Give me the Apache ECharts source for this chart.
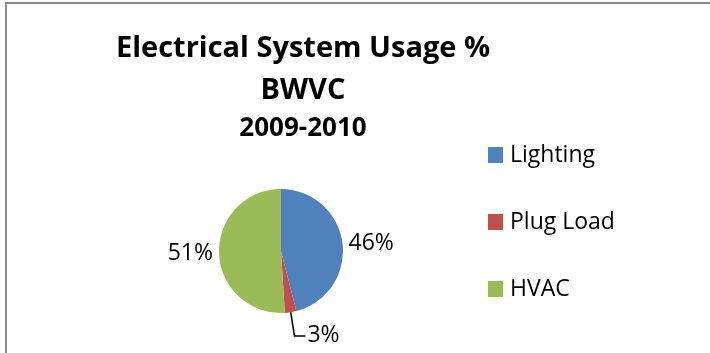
<!DOCTYPE html>
<html>
<head>
<meta charset="utf-8">
<script src="https://cdn.jsdelivr.net/npm/echarts@6/dist/echarts.min.js"></script>
<style>
  html, body { margin: 0; padding: 0; background: #fff; }
  #chart { width: 710px; height: 353px; }
</style>
</head>
<body>
<div id="chart"></div>
<script>
const categories = ["Lighting", "Plug Load", "HVAC"];
const shares = [46, 3, 51];
const colors = ["#4F81BD", "#C0504D", "#9BBB59"];

const font = "'Open Sans', sans-serif";

const pieData = categories.map((name, i) => {
  const item = { name, value: shares[i], itemStyle: { color: colors[i] } };
  if (name === "Plug Load") {
    // small slice: label hangs below on a leader line
    item.label = { padding: [0, 0, 17, 0], distanceToLabelLine: 2 };
    item.labelLine = { show: true, length: 24, length2: 11 };
  }
  return item;
});

const chart = echarts.init(document.getElementById("chart"));
chart.setOption({
  backgroundColor: "#fff",
  animation: false,
  graphic: [{
    type: "polyline",
    shape: { points: [[6, 353], [6, 3], [710, 3]] },
    style: { stroke: "#8c8c8c", lineWidth: 2, fill: null }
  }],
  title: {
    text: "Electrical System Usage %\nBWVC",
    subtext: "2009-2010",
    left: 298,
    top: 23,
    textAlign: "center",
    itemGap: 2,
    textStyle: { fontFamily: font, fontSize: 29, fontWeight: "bold", color: "#000", lineHeight: 42 },
    subtextStyle: { fontFamily: font, fontSize: 26, fontWeight: "bold", color: "#000", lineHeight: 30 }
  },
  legend: {
    orient: "vertical",
    left: 483,
    top: 135,
    itemWidth: 15,
    itemHeight: 16,
    itemGap: 37,
    icon: "rect",
    textStyle: { fontFamily: font, fontSize: 23, color: "#000", lineHeight: 30, padding: [0, 0, 0, 2] },
    data: categories
  },
  series: [{
    type: "pie",
    center: [281, 251],
    radius: 62,
    startAngle: 90,
    clockwise: true,
    data: pieData,
    label: {
      show: true,
      formatter: "{c}%",
      fontFamily: font,
      fontSize: 23,
      color: "#000"
    },
    labelLine: {
      show: false,
      length: 1,
      length2: 0,
      lineStyle: { color: "#000", width: 1.5 }
    },
    itemStyle: { borderWidth: 0 },
    emphasis: { disabled: true }
  }]
});
</script>
</body>
</html>
